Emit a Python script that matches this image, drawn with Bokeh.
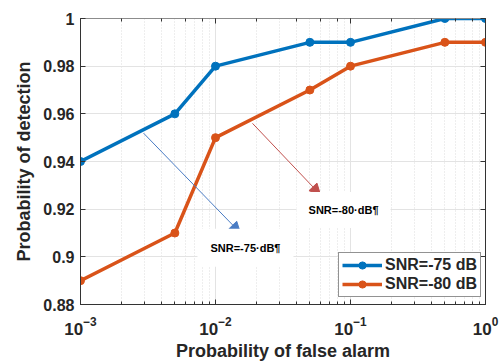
from bokeh.plotting import figure
from bokeh.models import (LogAxis, LinearAxis, FixedTicker, CustomJSTickFormatter,
                          Arrow, NormalHead, Label, Range1d)
from bokeh.embed import file_html
from bokeh.resources import INLINE

# Detection performance data
pfa = [0.001, 0.005, 0.01, 0.05, 0.1, 0.5, 1.0]
pd_snr75 = [0.94, 0.96, 0.98, 0.99, 0.99, 1.0, 1.0]
pd_snr80 = [0.89, 0.91, 0.95, 0.97, 0.98, 0.99, 0.99]
series_labels = ["SNR=-75 dB", "SNR=-80 dB"]
y_ticks = [0.88, 0.90, 0.92, 0.94, 0.96, 0.98, 1.0]

BLUE = "#0072BD"
ORANGE = "#D95319"
FONT = "Liberation Sans"
AX_COLOR = "#333333"

p = figure(width=500, height=363, x_axis_type="log",
           x_range=Range1d(1e-3, 1.0), y_range=Range1d(0.88, 1.0),
           output_backend="svg", toolbar_location=None,
           min_border_left=80, min_border_right=15,
           min_border_top=18, min_border_bottom=58)
p.background_fill_color = "white"
p.border_fill_color = "white"
p.outline_line_color = AX_COLOR
p.outline_line_width = 1

# Axes styling
xa = p.xaxis[0]
ya = p.yaxis[0]
for ax in (xa, ya):
    ax.axis_line_color = AX_COLOR
    ax.major_tick_line_color = AX_COLOR
    ax.minor_tick_line_color = AX_COLOR
    ax.major_tick_in = 5
    ax.major_tick_out = 0
    ax.minor_tick_in = 3
    ax.minor_tick_out = 0
    ax.major_label_text_font = FONT
    ax.major_label_text_font_style = "bold"
    ax.major_label_text_font_size = "16px"
    ax.major_label_text_color = "#262626"
    ax.axis_label_text_font = FONT
    ax.axis_label_text_font_style = "bold"
    ax.axis_label_text_font_size = "18px"
    ax.axis_label_text_color = "#262626"

xa.axis_label = "Probability of false alarm"
xa.major_label_text_font_size = "17px"
xa.major_label_standoff = 12
xa.axis_label_standoff = 3
ya.axis_label = "Probability of detection"
ya.ticker = FixedTicker(ticks=y_ticks)
ya.minor_tick_line_color = None
ya.formatter = CustomJSTickFormatter(code="return String(Math.round(tick*100)/100)")
ya.major_label_standoff = 6
ya.axis_label_standoff = 6

# Box: ticks on top and right without visible labels
top = LogAxis(major_label_text_font_size="1px", major_label_text_color=None,
              major_tick_in=5, major_tick_out=0, minor_tick_in=3, minor_tick_out=0,
              major_tick_line_color=AX_COLOR, minor_tick_line_color=AX_COLOR,
              axis_line_color="#8c8c8c", major_label_standoff=0)
right = LinearAxis(major_label_text_font_size="1px", major_label_text_color=None,
                   ticker=FixedTicker(ticks=y_ticks),
                   major_tick_in=5, major_tick_out=0, minor_tick_line_color=None,
                   major_tick_line_color=AX_COLOR, axis_line_color=AX_COLOR,
                   major_label_standoff=0)
p.add_layout(top, "above")
p.add_layout(right, "right")
p.outline_line_color = None

# Grid
p.xgrid.grid_line_color = "#e3e3e3"
p.xgrid.minor_grid_line_color = "#dcdcdc"
p.xgrid.minor_grid_line_dash = "1 2"
p.ygrid.ticker = FixedTicker(ticks=y_ticks)
p.ygrid.grid_line_color = "#e3e3e3"

# Series
p.line(pfa, pd_snr75, color=BLUE, line_width=3.5, legend_label=series_labels[0])
p.scatter(pfa, pd_snr75, color=BLUE, size=8, legend_label=series_labels[0])
p.line(pfa, pd_snr80, color=ORANGE, line_width=3.5, legend_label=series_labels[1])
p.scatter(pfa, pd_snr80, color=ORANGE, size=8, legend_label=series_labels[1])

# Callout arrows
p.add_layout(Arrow(x_start=0.00293, y_start=0.9519, x_end=0.0153, y_end=0.910,
                   line_color="#4a7cc4", line_width=1,
                   end=NormalHead(size=11, fill_color="#4a7cc4", line_color="#4a7cc4")))
p.add_layout(Arrow(x_start=0.0188, y_start=0.956, x_end=0.060, y_end=0.926,
                   line_color="#c0504d", line_width=1,
                   end=NormalHead(size=11, fill_color="#c0504d", line_color="#c0504d")))

# Callout labels with white boxes
p.add_layout(Label(x=0.0888, y=0.9197, text="SNR=-80·dB¶", text_font=FONT,
                   text_font_style="bold", text_font_size="11px", text_color="black",
                   text_align="center", text_baseline="middle",
                   background_fill_color="white", padding=12))
p.add_layout(Label(x=0.01667, y=0.9038, text="SNR=-75·dB¶", text_font=FONT,
                   text_font_style="bold", text_font_size="11px", text_color="black",
                   text_align="center", text_baseline="middle",
                   background_fill_color="white", padding=13))

# Legend
lg = p.legend[0]
lg.location = (258, 7)
lg.border_line_color = "#262626"
lg.border_line_width = 1.5
lg.background_fill_color = "white"
lg.background_fill_alpha = 1
lg.label_text_font = FONT
lg.label_text_font_style = "bold"
lg.label_text_font_size = "16px"
lg.label_text_color = "#262626"
lg.glyph_width = 40
lg.glyph_height = 18
lg.label_height = 18
lg.label_standoff = 3
lg.spacing = 1
lg.padding = 3
lg.margin = 0

open("out.html", "w").write(file_html(p, INLINE))
